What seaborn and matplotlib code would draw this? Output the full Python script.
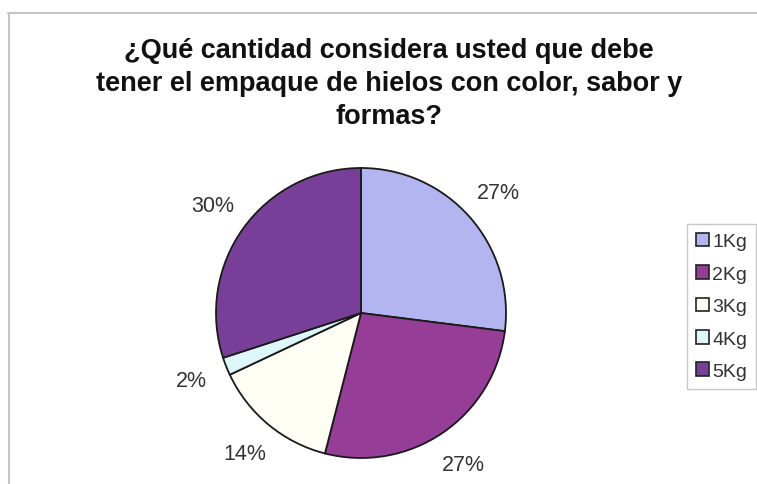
import matplotlib
matplotlib.use("Agg")
import matplotlib.pyplot as plt
from matplotlib.lines import Line2D
import seaborn as sns

# Survey answers: preferred package size
categories = ["1Kg", "2Kg", "3Kg", "4Kg", "5Kg"]
percentages = [27, 27, 14, 2, 30]
colors = ["#B2B5F0", "#953D97", "#FFFFF6", "#DDF6F9", "#773F98"]
title = "¿Qué cantidad considera usted que debe\ntener el empaque de hielos con color, sabor y\nformas?"

sns.set_theme(style="white")
plt.rcParams["font.family"] = ["Liberation Sans", "DejaVu Sans"]

W, H = 757, 485
fig = plt.figure(figsize=(W / 100, H / 100), dpi=100)
fig.patch.set_facecolor("white")

# Pie axes: centre at (361, 314) px, radius 145 px
cx, cy, r = 361, 314, 145
ax = fig.add_axes([(cx - r) / W, (H - cy - r) / H, 2 * r / W, 2 * r / H])
wedges, _, autotexts = ax.pie(
    percentages,
    colors=colors,
    startangle=90,
    counterclock=False,
    autopct=lambda p: f"{p:.0f}%",
    pctdistance=1.26,
    wedgeprops=dict(edgecolor="#1a1a1a", linewidth=1.3),
    textprops=dict(fontsize=15.5, color="#333333"),
)
ax.set_xlim(-1, 1)
ax.set_ylim(-1, 1)
ax.set_aspect("equal")
for w in wedges:
    w.set_clip_on(False)

fig.text(389 / W, 1 - 84 / H, title, ha="center", va="center",
         fontsize=19.5, fontweight="bold", color="#111111", linespacing=1.35)

leg = fig.legend(
    wedges, categories,
    loc="upper left", bbox_to_anchor=(687 / W, 1 - 225 / H),
    frameon=True, fancybox=False, edgecolor="#BBBBBB",
    handlelength=0.7, handleheight=0.7, handletextpad=0.15,
    labelspacing=0.76, borderpad=0.45, borderaxespad=0,
    prop=dict(size=14),
)
leg.get_frame().set_linewidth(1.0)
for t in leg.get_texts():
    t.set_color("#333333")
for hnd in leg.legend_handles:
    hnd.set_edgecolor("#222222")
    hnd.set_linewidth(1.2)

# Outer chart frame (top and left edges)
fig.add_artist(Line2D([8 / W, 1], [1 - 14 / H, 1 - 14 / H], color="#C4C4C4", lw=1.5,
                      transform=fig.transFigure))
fig.add_artist(Line2D([9 / W, 9 / W], [0, 1 - 14 / H], color="#C4C4C4", lw=1.5,
                      transform=fig.transFigure))

fig.savefig("out.png", dpi=100, facecolor="white")
